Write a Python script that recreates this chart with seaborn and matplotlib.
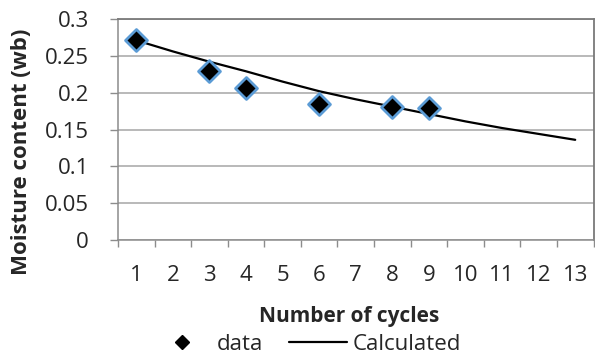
import matplotlib
matplotlib.use("Agg")
import matplotlib.pyplot as plt
from matplotlib.ticker import FixedLocator
from matplotlib.lines import Line2D
import seaborn as sns
import pandas as pd

# Measured moisture content per drying cycle
cycles_measured = [1, 3, 4, 6, 8, 9]
moisture_measured = [0.271, 0.229, 0.206, 0.185, 0.181, 0.179]

# Model prediction over all cycles
cycles_model = [1, 2, 3, 4, 5, 6, 7, 8, 9, 10, 11, 12, 13]
moisture_model = [0.271, 0.256, 0.242, 0.229, 0.215, 0.202, 0.191,
                  0.181, 0.171, 0.161, 0.152, 0.144, 0.136]

y_ticks = [0, 0.05, 0.1, 0.15, 0.2, 0.25, 0.3]
y_tick_labels = ["0", "0.05", "0.1", "0.15", "0.2", "0.25", "0.3"]

df_meas = pd.DataFrame({"cycle": cycles_measured, "mc": moisture_measured})
df_model = pd.DataFrame({"cycle": cycles_model, "mc": moisture_model})

sns.set_theme(style="white")
plt.rcParams["font.family"] = ["Open Sans", "DejaVu Sans"]
text_color = "#262626"
tick_size = 16
label_size = 15

fig = plt.figure(figsize=(5.95, 3.55), dpi=100)
ax = fig.add_axes([118 / 595, 1 - 240 / 355, (593.5 - 118) / 595,
                  (240 - 19) / 355])

sns.lineplot(data=df_model, x="cycle", y="mc", ax=ax, color="black",
             linewidth=1.6, zorder=3)
sns.scatterplot(data=df_meas, x="cycle", y="mc", ax=ax, marker="D", s=125,
                color="black", edgecolor="#5b9bd5", linewidth=2.0, zorder=4)

ax.set_xlim(0.5, 13.5)
ax.set_ylim(0, 0.3)
ax.set_yticks(y_ticks)
ax.set_yticklabels(y_tick_labels)
ax.set_xticks(cycles_model)
ax.set_xticklabels([str(c) for c in cycles_model])
ax.xaxis.set_minor_locator(FixedLocator([c + 0.5 for c in range(0, 14)]))
ax.tick_params(axis="x", which="major", length=0, pad=18,
               labelsize=tick_size, labelcolor=text_color)
ax.tick_params(axis="x", which="minor", length=5, width=1, color="#8c8c8c",
               direction="out", bottom=True)
ax.tick_params(axis="y", which="major", length=6, width=1, color="#8c8c8c",
               direction="out", left=True, pad=15, labelsize=tick_size,
               labelcolor=text_color)

ax.grid(axis="y", color="#a6a6a6", linewidth=1.1)
ax.set_axisbelow(True)
for side in ["left", "bottom"]:
    ax.spines[side].set_color("#8c8c8c")
    ax.spines[side].set_linewidth(1.1)
for side in ["top", "right"]:
    ax.spines[side].set_color("#7a7a7a")
    ax.spines[side].set_linewidth(1.3)

ax.set_xlabel("Number of cycles", fontsize=label_size, fontweight="bold",
              color=text_color)
ax.set_ylabel("Moisture content (wb)", fontsize=16,
              fontweight="bold", color=text_color)
ax.xaxis.set_label_coords(0.486, -0.30)
ax.yaxis.set_label_coords(-0.181, 0.40)

handles = [
    Line2D([], [], linestyle="none", marker="D", markersize=7,
           markerfacecolor="black", markeredgecolor="black"),
    Line2D([], [], color="black", linewidth=1.6),
]
fig.legend(handles, ["data", "Calculated"], loc="center",
           bbox_to_anchor=(307 / 595, 1 - 344 / 355), ncol=2, frameon=False,
           fontsize=tick_size, handlelength=2.6, columnspacing=1.2,
           handletextpad=0.25, labelcolor=text_color)

fig.savefig("out.png", dpi=100)
